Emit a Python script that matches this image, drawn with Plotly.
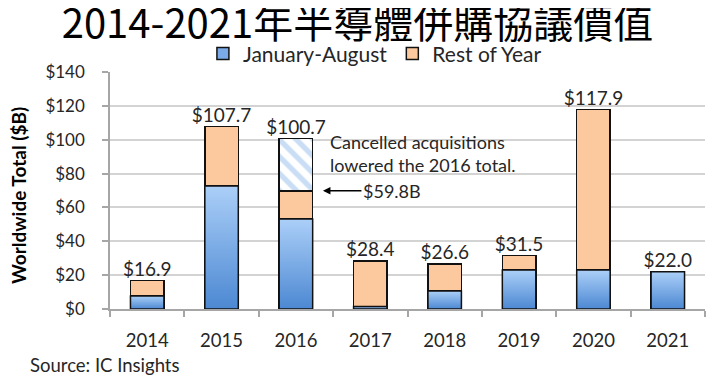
import plotly.graph_objects as go

years = ["2014", "2015", "2016", "2017", "2018", "2019", "2020", "2021"]
jan_aug = [7.7, 72.7, 53.1, 1.5, 10.6, 23.0, 23.0, 22.0]
rest_of_year = [9.2, 35.0, 16.7, 26.9, 16.0, 8.5, 94.9, 0.0]
cancelled = [0, 0, 30.9, 0, 0, 0, 0, 0]
totals = [16.9, 107.7, 100.7, 28.4, 26.6, 31.5, 117.9, 22.0]
total_labels = ["$%.1f" % v for v in totals]
y_ticks = [0, 20, 40, 60, 80, 100, 120, 140]
y_tick_labels = ["$%d" % v for v in y_ticks]

FONT = "Lato"
TXT = "#262626"
BLUE = "#7aaae8"
ORANGE = "#fbc99d"
BW = 0.45
xpos = list(range(len(years)))

fig = go.Figure()

fig.add_trace(go.Bar(
    x=xpos, y=jan_aug, width=BW, name="January-August",
    marker=dict(color=BLUE, line=dict(color="#111", width=1.5)),
))
fig.add_trace(go.Bar(
    x=xpos, y=rest_of_year, width=BW, name="Rest of Year",
    marker=dict(color=ORANGE, line=dict(color="#111", width=1.5)),
))
fig.add_trace(go.Bar(
    x=xpos, y=cancelled, width=BW, name="Cancelled", showlegend=False,
    marker=dict(color="white", line=dict(color="#111", width=1.5),
                pattern=dict(shape="\\", fgcolor="#94bdec", bgcolor="white",
                             size=12, solidity=0.45)),
))

# gradient overlay for the January-August segments (per bar)
for i, v in enumerate(jan_aug):
    x0, x1 = i - BW / 2, i + BW / 2
    fig.add_trace(go.Scatter(
        x=[x0, x0, x1, x1, x0], y=[0, v, v, 0, 0],
        mode="lines", fill="toself", showlegend=False, hoverinfo="skip",
        line=dict(color="#111", width=1.5),
        fillgradient=dict(type="vertical",
                          colorscale=[[0, "#4c88d2"], [1, "#abcff8"]]),
    ))

fig.add_trace(go.Scatter(
    x=xpos, y=totals, mode="text", text=total_labels,
    textposition="top center", showlegend=False, hoverinfo="skip",
    textfont=dict(family=FONT, size=19, color=TXT),
))

fig.update_layout(
    width=724, height=386,
    margin=dict(l=102, r=27, t=64, b=85, autoexpand=False),
    barmode="stack",
    plot_bgcolor="white", paper_bgcolor="white",
    font=dict(family=FONT, color=TXT),
    title=dict(text="2014-2021年半導體併購協議價值",
               font=dict(family="Noto Sans CJK TC", size=40, color="black"),
               x=0.4827, xanchor="center", xref="container",
               y=0.958, yanchor="middle", yref="container"),
    legend=dict(orientation="h", x=0.5068, xanchor="center", xref="container",
                y=0.881, yanchor="middle", yref="container",
                font=dict(family=FONT, size=21, color=TXT),
                itemwidth=30, traceorder="normal", bgcolor="rgba(0,0,0,0)"),
    showlegend=True,
)
fig.update_xaxes(
    range=[-0.5, 7.5], tickmode="array", tickvals=xpos, ticktext=years,
    ticks="", showgrid=False, zeroline=False, automargin=False,
    showline=True, linecolor="#a6a6a6", linewidth=1.5,
    tickfont=dict(family=FONT, size=18.5, color=TXT), ticklabelstandoff=14,
    minor=dict(tickvals=[i - 0.5 for i in range(len(years) + 1)], ticks="outside",
               ticklen=6, tickcolor="#a6a6a6", tickwidth=1.5, showgrid=False),
)
fig.update_yaxes(
    range=[0, 140], tickmode="array", tickvals=y_ticks, ticktext=y_tick_labels,
    ticks="outside", ticklen=6, tickcolor="#a6a6a6", tickwidth=1.5,
    showgrid=True, gridcolor="#d3d3d3", gridwidth=1.5, zeroline=False,
    showline=True, linecolor="#a6a6a6", linewidth=1.5, automargin=False,
    tickfont=dict(family=FONT, size=17, color=TXT), ticklabelstandoff=14,
)

fig.add_annotation(
    x=-0.155, y=0.48, xref="paper", yref="paper", xanchor="center", yanchor="middle",
    text="<b>Worldwide Total ($B)</b>", textangle=-90, showarrow=False,
    font=dict(family=FONT, size=19, color="black"),
)
fig.add_annotation(
    x=2.363, y=53.1 + 16.7, xref="x", yref="y",
    text="$59.8B", showarrow=True, ax=69, ay=0,
    arrowhead=2, arrowsize=1, arrowwidth=1.5, arrowcolor="black", standoff=0,
    font=dict(family=FONT, size=18, color=TXT),
)
fig.add_annotation(
    x=2.43, y=91.8, xref="x", yref="y", xanchor="left", yanchor="middle", align="left",
    text="Cancelled acquisitions<br>lowered the 2016 total.", showarrow=False,
    font=dict(family=FONT, size=18, color=TXT),
)
fig.add_annotation(
    x=-0.137, y=-0.237, xref="paper", yref="paper", xanchor="left", yanchor="middle",
    text="Source: IC Insights", showarrow=False,
    font=dict(family=FONT, size=18.5, color=TXT),
)

fig.write_html("out.html")
